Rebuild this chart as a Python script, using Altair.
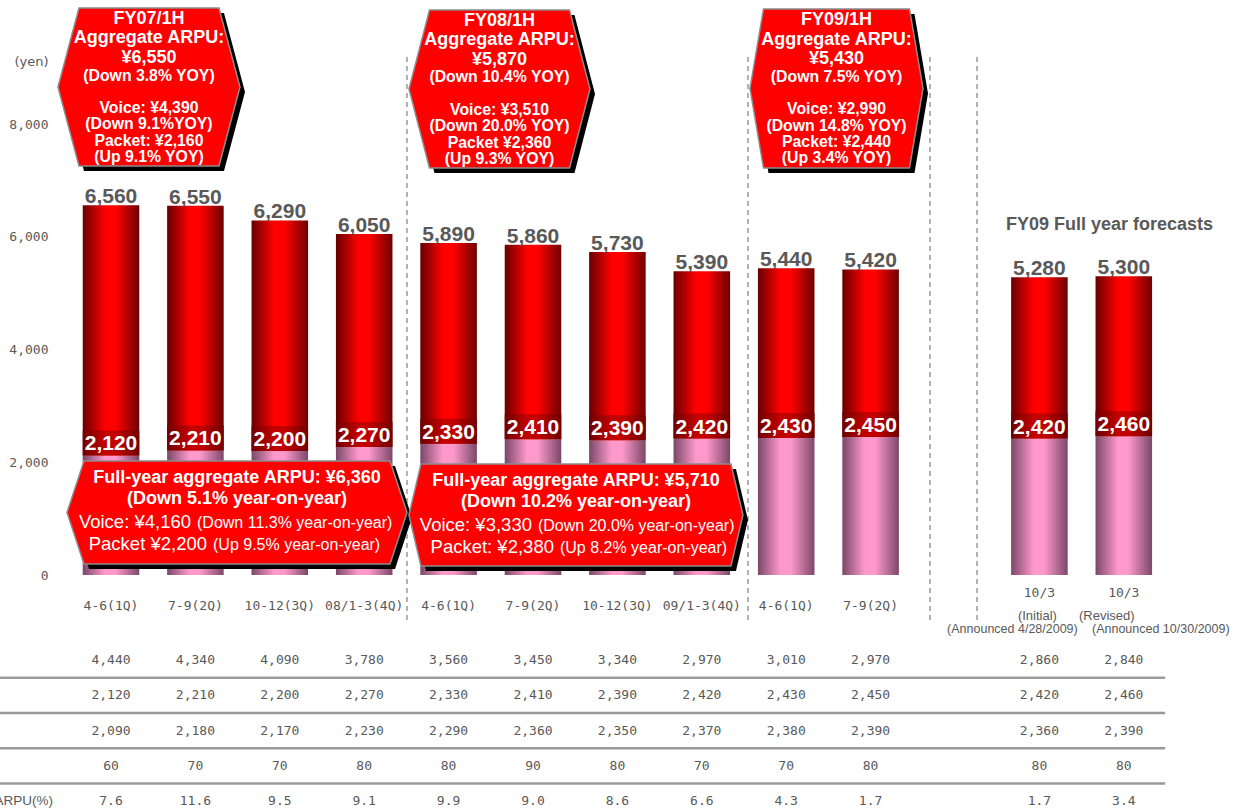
import altair as alt
import pandas as pd

# ------------------------------------------------------------------ data
periods = ["4-6(1Q)", "7-9(2Q)", "10-12(3Q)", "08/1-3(4Q)",
           "4-6(1Q)", "7-9(2Q)", "10-12(3Q)", "09/1-3(4Q)",
           "4-6(1Q)", "7-9(2Q)", "10/3", "10/3"]
voice_arpu = [4440, 4340, 4090, 3780, 3560, 3450, 3340, 2970, 3010, 2970, 2860, 2840]
packet_arpu = [2120, 2210, 2200, 2270, 2330, 2410, 2390, 2420, 2430, 2450, 2420, 2460]
aggregate_arpu = [6560, 6550, 6290, 6050, 5890, 5860, 5730, 5390, 5440, 5420, 5280, 5300]
table_row3 = [2090, 2180, 2170, 2230, 2290, 2360, 2350, 2370, 2380, 2390, 2360, 2390]
table_row4 = [60, 70, 70, 80, 80, 90, 80, 70, 70, 80, 80, 80]
table_row5 = [7.6, 11.6, 9.5, 9.1, 9.9, 9.0, 8.6, 6.6, 4.3, 1.7, 1.7, 3.4]
row5_label = "ARPU(%)"

half_titles = ["FY07/1H\nAggregate ARPU:\n¥6,550",
               "FY08/1H\nAggregate ARPU:\n¥5,870",
               "FY09/1H\nAggregate ARPU:\n¥5,430"]
half_yoy = ["(Down 3.8% YOY)", "(Down 10.4% YOY)", "(Down 7.5% YOY)"]
half_details = ["Voice: ¥4,390\n(Down 9.1%YOY)\nPacket: ¥2,160\n(Up 9.1% YOY)",
                "Voice: ¥3,510\n(Down 20.0% YOY)\nPacket ¥2,360\n(Up 9.3% YOY)",
                "Voice: ¥2,990\n(Down 14.8% YOY)\nPacket: ¥2,440\n(Up 3.4% YOY)"]
full_titles = ["Full-year aggregate ARPU: ¥6,360\n(Down 5.1% year-on-year)",
               "Full-year aggregate ARPU: ¥5,710\n(Down 10.2% year-on-year)"]
full_voice = ["Voice: ¥4,160", "Voice: ¥3,330"]
full_voice_note = ["(Down 11.3% year-on-year)", "(Down 20.0% year-on-year)"]
full_packet = ["Packet ¥2,200", "Packet: ¥2,380"]
full_packet_note = ["(Up 9.5% year-on-year)", "(Up 8.2% year-on-year)"]
forecast_kind = ["(Initial)", "(Revised)"]
forecast_announced = ["(Announced 4/28/2009)", "(Announced 10/30/2009)"]
forecast_title = "FY09 Full year forecasts"

# ------------------------------------------------------------------ layout
W, H = 1242, 811
SLOT_PX, SLOT0_PX = 84.4, 111.0          # px per category slot, px of slot 0
ZERO_PY, PX_PER_YEN = 575.0, 451.0 / 8000
ROW0_PY, ROW_PX = 660.0, 35.25           # table rows
slots = [0, 1, 2, 3, 4, 5, 6, 7, 8, 9, 11, 12]
BAR_HALF = 0.335
sep_slots = [3.507, 7.547, 9.704, 10.261]
SEP_TOP, SEP_BOTTOM = 9190, -800

X_DOM = [-SLOT0_PX / SLOT_PX, (W - SLOT0_PX) / SLOT_PX]
Y_DOM = [-(H - ZERO_PY) / PX_PER_YEN, ZERO_PY / PX_PER_YEN]
T_DOM = [-ROW0_PY / ROW_PX, (H - ROW0_PY) / ROW_PX]

xs = alt.Scale(domain=X_DOM, nice=False, zero=False)
ys = alt.Scale(domain=Y_DOM, nice=False, zero=False)
ts = alt.Scale(domain=T_DOM, nice=False, zero=False, reverse=True)

# callout anchors in data units (slot, yen) and hexagon geometry (px)
half_geo = [(0.450, 8656, 182, 158, 70), (4.603, 8621, 181, 158, 70), (8.596, 8630, 173, 159, 73)]
full_geo = [(1.493, 1109, 340, 103, 153), (5.509, 1064, 334, 102, 155)]
full_split_px = [(-43, -27), (-41, -19)]
forecast_kind_dx = [-2, -17]
forecast_ann_dx = [-27, 37]

GRAY = "#595959"
SANS = "Liberation Sans"
MONO = "DejaVu Sans Mono"


def hex_path(w, h, e):
    s = w / 2.0
    a, b = e / s, h / 2.0 / s
    return (f"M-1,0L{-a:.4f},{-b:.4f}L{a:.4f},{-b:.4f}L1,0"
            f"L{a:.4f},{b:.4f}L{-a:.4f},{b:.4f}Z")


def grad(edge_l, mid, edge_r):
    return alt.Gradient(gradient="linear", x1=0, x2=1, y1=0, y2=0, stops=[
        alt.GradientStop(offset=0, color=edge_l),
        alt.GradientStop(offset=0.4, color=mid),
        alt.GradientStop(offset=0.58, color=mid),
        alt.GradientStop(offset=1, color=edge_r)])


def X(f):
    return alt.X(f"{f}:Q", scale=xs, axis=None)


def Y(f):
    return alt.Y(f"{f}:Q", scale=ys, axis=None)


def T(f):
    return alt.Y(f"{f}:Q", scale=ts, axis=None)


# ------------------------------------------------------------------ frames
bars = pd.DataFrame({"slot": slots, "voice": voice_arpu, "packet": packet_arpu,
                     "total": aggregate_arpu})
bars["x_lo"] = bars["slot"] - BAR_HALF
bars["x_hi"] = bars["slot"] + BAR_HALF
bars["base"] = 0
bars["top"] = bars["packet"] + bars["voice"]
bars["total_lbl"] = [f"{v:,}" for v in aggregate_arpu]
bars["packet_lbl"] = [f"{v:,}" for v in packet_arpu]

seps = pd.DataFrame({"sx": sep_slots, "top": SEP_TOP, "bottom": SEP_BOTTOM})

hexes = pd.DataFrame(
    [{"cx": g[0], "cy": g[1], "path": hex_path(g[2], g[3], g[4]), "size": g[2] ** 2}
     for g in half_geo + full_geo])

half_df = pd.DataFrame({"cx": [g[0] for g in half_geo], "cy": [g[1] for g in half_geo],
                        "title": half_titles, "yoy": half_yoy, "details": half_details})
full_df = pd.DataFrame({"cx": [g[0] for g in full_geo], "cy": [g[1] for g in full_geo],
                        "title": full_titles,
                        "vx": [g[0] + s[0] / SLOT_PX for g, s in zip(full_geo, full_split_px)],
                        "px": [g[0] + s[1] / SLOT_PX for g, s in zip(full_geo, full_split_px)],
                        "voice": full_voice, "voice_note": full_voice_note,
                        "packet": full_packet, "packet_note": full_packet_note})

table_rows = [[f"{v:,}" for v in voice_arpu], [f"{v:,}" for v in packet_arpu],
              [f"{v:,}" for v in table_row3], [f"{v:,}" for v in table_row4],
              [f"{v:.1f}" for v in table_row5]]
table = pd.DataFrame([{"slot": s, "r": r, "txt": t}
                      for r, row in enumerate(table_rows) for s, t in zip(slots, row)])
table_lines = pd.DataFrame({"r": [0.5, 1.5, 2.5, 3.5], "x_lo": X_DOM[0], "x_hi": 12.49})
row_label = pd.DataFrame({"slot": [-0.687], "r": [4], "txt": [row5_label]})

q_labels = pd.DataFrame({"slot": slots[:10], "r": -1.53, "txt": periods[:10]})
f_labels = pd.DataFrame({"slot": slots[10:], "r": -1.90, "txt": periods[10:]})
f_kind = pd.DataFrame({"slot": [s + d / SLOT_PX for s, d in zip(slots[10:], forecast_kind_dx)],
                       "r": -1.25, "txt": forecast_kind})
f_ann = pd.DataFrame({"slot": [s + d / SLOT_PX for s, d in zip(slots[10:], forecast_ann_dx)],
                      "r": -0.88, "txt": forecast_announced})
f_title = pd.DataFrame({"slot": [11.83], "yen": [6210], "txt": [forecast_title]})

# ------------------------------------------------------------------ layers
sep_layer = alt.Chart(seps).mark_rule(color="#9a9a9a", strokeWidth=1.5, strokeDash=[5, 4]).encode(
    x=X("sx"), y=Y("top"), y2="bottom:Q")

pink = alt.Chart(bars).mark_rect(fill=grad("#7a4868", "#ff99cc", "#7a4868")).encode(
    x=X("x_lo"), x2="x_hi:Q",
    y=alt.Y("base:Q", scale=ys, axis=alt.Axis(
        values=[0, 2000, 4000, 6000, 8000], format=",.0f", labelFont=MONO, labelFontSize=13,
        labelColor=GRAY, ticks=False, domain=False, grid=False, offset=-48, labelPadding=0,
        title="(yen)", titleAngle=0, titleAlign="right", titleBaseline="middle",
        titleX=0, titleY=61, titleFont="DejaVu Sans", titleFontSize=13,
        titleFontWeight="normal", titleColor=GRAY)),
    y2="packet:Q")

red = alt.Chart(bars).mark_rect(fill=grad("#680000", "#ff0000", "#6e0000")).encode(
    x=X("x_lo"), x2="x_hi:Q", y=Y("packet"), y2="top:Q")

lbl_box = alt.Chart(bars).mark_rect(fill=grad("#700000", "#c20000", "#700000"), y2Offset=-25).encode(
    x=X("x_lo"), x2="x_hi:Q", y=Y("packet"), y2="packet:Q")

total_txt = alt.Chart(bars).mark_text(font=SANS, fontWeight="bold", fontSize=21, color=GRAY,
                                      baseline="alphabetic", dy=-2).encode(
    x=X("slot"), y=Y("top"), text="total_lbl:N")

packet_txt = alt.Chart(bars).mark_text(font=SANS, fontWeight="bold", fontSize=21, color="white",
                                       baseline="alphabetic", dy=-5).encode(
    x=X("slot"), y=Y("packet"), text="packet_lbl:N")

hex_shadow = alt.Chart(hexes).mark_point(filled=True, fill="black", opacity=1, strokeWidth=0,
                                         xOffset=5, yOffset=5).encode(
    x=X("cx"), y=Y("cy"), shape=alt.Shape("path:N", scale=None, legend=None),
    size=alt.Size("size:Q", scale=None, legend=None))

hex_body = alt.Chart(hexes).mark_point(filled=True, fill="#ff0000", stroke="#8c8c8c", strokeWidth=1.5,
                                       opacity=1).encode(
    x=X("cx"), y=Y("cy"), shape=alt.Shape("path:N", scale=None, legend=None),
    size=alt.Size("size:Q", scale=None, legend=None))

# multi-line blocks: the anchor (+dy) is the middle of the first line
half_title_txt = alt.Chart(half_df).mark_text(font=SANS, fontWeight="bold", fontSize=18, lineHeight=19.3,
                                              lineBreak="\n", color="white", baseline="middle", dy=-68).encode(
    x=X("cx"), y=Y("cy"), text="title:N")
half_yoy_txt = alt.Chart(half_df).mark_text(font=SANS, fontWeight="bold", fontSize=15.8,
                                            color="white", baseline="middle", dy=-11.5).encode(
    x=X("cx"), y=Y("cy"), text="yoy:N")
half_detail_txt = alt.Chart(half_df).mark_text(font=SANS, fontWeight="bold", fontSize=15.8, lineHeight=16.4,
                                               lineBreak="\n", color="white", baseline="middle", dy=20.8).encode(
    x=X("cx"), y=Y("cy"), text="details:N")

full_title_txt = alt.Chart(full_df).mark_text(font=SANS, fontWeight="bold", fontSize=18, lineHeight=21.5,
                                              lineBreak="\n", color="white", baseline="middle", dy=-34.5).encode(
    x=X("cx"), y=Y("cy"), text="title:N")
full_voice_txt = alt.Chart(full_df).mark_text(font=SANS, fontSize=18.5, color="white", align="right",
                                              baseline="middle", dy=10, dx=-3).encode(
    x=X("vx"), y=Y("cy"), text="voice:N")
full_voice_note_txt = alt.Chart(full_df).mark_text(font=SANS, fontSize=16, color="white", align="left",
                                                   baseline="middle", dy=11, dx=3).encode(
    x=X("vx"), y=Y("cy"), text="voice_note:N")
full_packet_txt = alt.Chart(full_df).mark_text(font=SANS, fontSize=18.5, color="white", align="right",
                                               baseline="middle", dy=32, dx=-3).encode(
    x=X("px"), y=Y("cy"), text="packet:N")
full_packet_note_txt = alt.Chart(full_df).mark_text(font=SANS, fontSize=16, color="white", align="left",
                                                    baseline="middle", dy=33, dx=3).encode(
    x=X("px"), y=Y("cy"), text="packet_note:N")

title_txt = alt.Chart(f_title).mark_text(font=SANS, fontWeight="bold", fontSize=18, color=GRAY,
                                         baseline="middle").encode(
    x=X("slot"), y=Y("yen"), text="txt:N")

table_txt = alt.Chart(table).mark_text(font=MONO, fontSize=13, color=GRAY, baseline="middle").encode(
    x=X("slot"), y=T("r"), text="txt:N")
table_rule = alt.Chart(table_lines).mark_rule(color="#9a9a9a", strokeWidth=2.5).encode(
    x=X("x_lo"), x2="x_hi:Q", y=T("r"))
row_label_txt = alt.Chart(row_label).mark_text(font=SANS, fontSize=13.5, color=GRAY, align="right",
                                               baseline="middle").encode(
    x=X("slot"), y=T("r"), text="txt:N")

q_txt = alt.Chart(q_labels).mark_text(font=MONO, fontSize=13, color=GRAY, baseline="middle").encode(
    x=X("slot"), y=T("r"), text="txt:N")
f_txt = alt.Chart(f_labels).mark_text(font=MONO, fontSize=13, color=GRAY, baseline="middle").encode(
    x=X("slot"), y=T("r"), text="txt:N")
f_kind_txt = alt.Chart(f_kind).mark_text(font=SANS, fontSize=13, color=GRAY, baseline="middle").encode(
    x=X("slot"), y=T("r"), text="txt:N")
f_ann_txt = alt.Chart(f_ann).mark_text(font=SANS, fontSize=12.5, color=GRAY, baseline="middle").encode(
    x=X("slot"), y=T("r"), text="txt:N")

chart = alt.layer(
    sep_layer, pink, red, lbl_box, total_txt, packet_txt,
    hex_shadow, hex_body, half_title_txt, half_yoy_txt, half_detail_txt,
    full_title_txt, full_voice_txt, full_voice_note_txt, full_packet_txt, full_packet_note_txt,
    title_txt, table_rule, table_txt, row_label_txt, q_txt, f_txt, f_kind_txt, f_ann_txt,
).resolve_scale(y="independent").properties(
    width=W, height=H, padding=0, autosize=alt.AutoSizeParams(type="none"), background="white"
).configure_view(stroke=None)

chart.save("out.html", embed_options={"renderer": "svg", "actions": False})
